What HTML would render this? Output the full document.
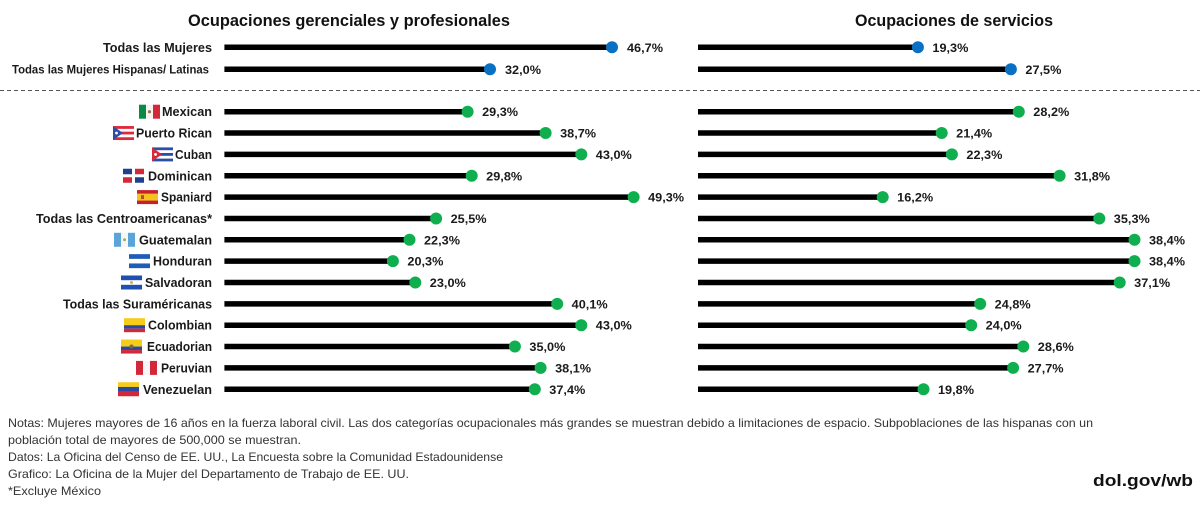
<!DOCTYPE html>
<html>
<head>
<meta charset="utf-8">
<style>
  html,body{margin:0;padding:0;background:#fff;}
  svg{display:block;}
  text{font-family:"Liberation Sans",Arial,sans-serif;}
  .lbl{font-size:12.5px;font-weight:bold;fill:#1a1a1a;}
  .val{font-size:12px;font-weight:bold;fill:#1a1a1a;}
  .ttl{font-size:17px;font-weight:bold;fill:#111;}
  .note{font-size:12px;fill:#333;}
</style>
</head>
<body>
<svg width="1200" height="508" viewBox="0 0 1200 508" xmlns="http://www.w3.org/2000/svg">
<defs>
  <symbol id="mx" viewBox="0 0 21 14"><rect width="7" height="14" fill="#0b8a47"/><rect x="7" width="7" height="14" fill="#f4f4f4"/><rect x="14" width="7" height="14" fill="#d2283a"/><circle cx="10.5" cy="7" r="1.6" fill="#a07040"/></symbol>
  <symbol id="pr" viewBox="0 0 21 14"><rect width="21" height="14" fill="#e0283a"/><rect y="2.8" width="21" height="2.8" fill="#fff"/><rect y="8.4" width="21" height="2.8" fill="#fff"/><polygon points="0,0 10,7 0,14" fill="#2b4fa8"/><circle cx="3.5" cy="7" r="1.4" fill="#fff"/></symbol>
  <symbol id="cu" viewBox="0 0 21 14"><rect width="21" height="14" fill="#2a4fa8"/><rect y="2.8" width="21" height="2.8" fill="#fff"/><rect y="8.4" width="21" height="2.8" fill="#fff"/><polygon points="0,0 10,7 0,14" fill="#d8283a"/><circle cx="3.5" cy="7" r="1.4" fill="#fff"/></symbol>
  <symbol id="do" viewBox="0 0 21 14"><rect width="21" height="14" fill="#fff"/><rect width="9" height="5.5" fill="#1f3f91"/><rect x="12" width="9" height="5.5" fill="#d2283a"/><rect y="8.5" width="9" height="5.5" fill="#d2283a"/><rect x="12" y="8.5" width="9" height="5.5" fill="#1f3f91"/></symbol>
  <symbol id="es" viewBox="0 0 21 14"><rect width="21" height="14" fill="#c8202a"/><rect y="3.5" width="21" height="7" fill="#f6c122"/><rect x="4" y="5" width="3" height="4" fill="#b0502a"/></symbol>
  <symbol id="gt" viewBox="0 0 21 14"><rect width="7" height="14" fill="#5ba4da"/><rect x="7" width="7" height="14" fill="#f7f7f7"/><rect x="14" width="7" height="14" fill="#5ba4da"/><circle cx="10.5" cy="7" r="1.5" fill="#9bb060"/></symbol>
  <symbol id="hn" viewBox="0 0 21 14"><rect width="21" height="14" fill="#1f5bb8"/><rect y="4.7" width="21" height="4.6" fill="#fff"/></symbol>
  <symbol id="sv" viewBox="0 0 21 14"><rect width="21" height="14" fill="#1f4fb0"/><rect y="4.7" width="21" height="4.6" fill="#fff"/><circle cx="10.5" cy="7" r="1.5" fill="#c9b060"/></symbol>
  <symbol id="co" viewBox="0 0 21 14"><rect width="21" height="7" fill="#f6cc1a"/><rect y="7" width="21" height="3.5" fill="#2a4aa0"/><rect y="10.5" width="21" height="3.5" fill="#d2283a"/></symbol>
  <symbol id="ec" viewBox="0 0 21 14"><rect width="21" height="7" fill="#f6cc1a"/><rect y="7" width="21" height="3.5" fill="#2a4aa0"/><rect y="10.5" width="21" height="3.5" fill="#d2283a"/><circle cx="10.5" cy="7" r="2" fill="#7a6a3a"/></symbol>
  <symbol id="pe" viewBox="0 0 21 14"><rect width="7" height="14" fill="#d2283a"/><rect x="7" width="7" height="14" fill="#f7f7f7"/><rect x="14" width="7" height="14" fill="#d2283a"/></symbol>
  <symbol id="ve" viewBox="0 0 21 14"><rect width="21" height="4.7" fill="#f6cc1a"/><rect y="4.7" width="21" height="4.6" fill="#2a4aa0"/><rect y="9.3" width="21" height="4.7" fill="#d2283a"/></symbol>
</defs>

<!-- Titles -->
<text class="ttl" x="188" y="26" textLength="322" lengthAdjust="spacingAndGlyphs">Ocupaciones gerenciales y profesionales</text>
<text class="ttl" x="855" y="26" textLength="198" lengthAdjust="spacingAndGlyphs">Ocupaciones de servicios</text>

<!-- Top labels -->
<text class="lbl" x="212" y="51.8" text-anchor="end" textLength="109" lengthAdjust="spacingAndGlyphs">Todas las Mujeres</text>
<text class="lbl" x="209" y="73.5" text-anchor="end" textLength="197" lengthAdjust="spacingAndGlyphs" style="font-size:11.5px">Todas las Mujeres Hispanas/ Latinas</text>

<!-- Dashed separator -->
<line x1="0" y1="90.5" x2="1200" y2="90.5" stroke="#555" stroke-width="1" stroke-dasharray="4 3"/>

<!-- Group labels -->
<g class="lbl">
<text x="212" y="116.2" text-anchor="end" textLength="50" lengthAdjust="spacingAndGlyphs">Mexican</text>
<text x="212" y="137.55" text-anchor="end" textLength="76" lengthAdjust="spacingAndGlyphs">Puerto Rican</text>
<text x="212" y="158.9" text-anchor="end" textLength="37" lengthAdjust="spacingAndGlyphs">Cuban</text>
<text x="212" y="180.25" text-anchor="end" textLength="64" lengthAdjust="spacingAndGlyphs">Dominican</text>
<text x="212" y="201.6" text-anchor="end" textLength="51" lengthAdjust="spacingAndGlyphs">Spaniard</text>
<text x="212" y="222.95" text-anchor="end" textLength="176" lengthAdjust="spacingAndGlyphs">Todas las Centroamericanas*</text>
<text x="212" y="244.3" text-anchor="end" textLength="73" lengthAdjust="spacingAndGlyphs">Guatemalan</text>
<text x="212" y="265.65" text-anchor="end" textLength="59" lengthAdjust="spacingAndGlyphs">Honduran</text>
<text x="212" y="287" text-anchor="end" textLength="67" lengthAdjust="spacingAndGlyphs">Salvadoran</text>
<text x="212" y="308.35" text-anchor="end" textLength="149" lengthAdjust="spacingAndGlyphs">Todas las Suraméricanas</text>
<text x="212" y="329.7" text-anchor="end" textLength="64" lengthAdjust="spacingAndGlyphs">Colombian</text>
<text x="212" y="351.05" text-anchor="end" textLength="65" lengthAdjust="spacingAndGlyphs">Ecuadorian</text>
<text x="212" y="372.4" text-anchor="end" textLength="51" lengthAdjust="spacingAndGlyphs">Peruvian</text>
<text x="212" y="393.75" text-anchor="end" textLength="69" lengthAdjust="spacingAndGlyphs">Venezuelan</text>
</g>

<!-- Flags -->
<use href="#mx" x="139" y="104.2" width="21" height="15"/>
<use href="#pr" x="113" y="125.55" width="21" height="15"/>
<use href="#cu" x="152" y="146.9" width="21" height="15"/>
<use href="#do" x="123" y="168.25" width="21" height="15"/>
<use href="#es" x="137" y="189.6" width="21" height="15"/>
<use href="#gt" x="114" y="232.3" width="21" height="15"/>
<use href="#hn" x="129" y="253.65" width="21" height="15"/>
<use href="#sv" x="121" y="275" width="21" height="15"/>
<use href="#co" x="124" y="317.7" width="21" height="15"/>
<use href="#ec" x="121" y="339.05" width="21" height="15"/>
<use href="#pe" x="136" y="360.4" width="21" height="15"/>
<use href="#ve" x="118" y="381.75" width="21" height="15"/>

<!-- Left panel bars -->
<g stroke="#000" stroke-width="5.5">
<line x1="224.4" y1="47.3" x2="612" y2="47.3"/>
<line x1="224.4" y1="69.3" x2="490" y2="69.3"/>
<line x1="224.4" y1="111.7" x2="467.6" y2="111.7"/>
<line x1="224.4" y1="133.05" x2="545.6" y2="133.05"/>
<line x1="224.4" y1="154.4" x2="581.3" y2="154.4"/>
<line x1="224.4" y1="175.75" x2="471.7" y2="175.75"/>
<line x1="224.4" y1="197.1" x2="633.6" y2="197.1"/>
<line x1="224.4" y1="218.45" x2="436.1" y2="218.45"/>
<line x1="224.4" y1="239.8" x2="409.5" y2="239.8"/>
<line x1="224.4" y1="261.15" x2="392.9" y2="261.15"/>
<line x1="224.4" y1="282.5" x2="415.3" y2="282.5"/>
<line x1="224.4" y1="303.85" x2="557.2" y2="303.85"/>
<line x1="224.4" y1="325.2" x2="581.3" y2="325.2"/>
<line x1="224.4" y1="346.55" x2="514.9" y2="346.55"/>
<line x1="224.4" y1="367.9" x2="540.6" y2="367.9"/>
<line x1="224.4" y1="389.25" x2="534.8" y2="389.25"/>
</g>
<g fill="#0a70c4">
<circle cx="612" cy="47.3" r="6"/>
<circle cx="490" cy="69.3" r="6"/>
</g>
<g fill="#0fae4e">
<circle cx="467.6" cy="111.7" r="6"/>
<circle cx="545.6" cy="133.05" r="6"/>
<circle cx="581.3" cy="154.4" r="6"/>
<circle cx="471.7" cy="175.75" r="6"/>
<circle cx="633.6" cy="197.1" r="6"/>
<circle cx="436.1" cy="218.45" r="6"/>
<circle cx="409.5" cy="239.8" r="6"/>
<circle cx="392.9" cy="261.15" r="6"/>
<circle cx="415.3" cy="282.5" r="6"/>
<circle cx="557.2" cy="303.85" r="6"/>
<circle cx="581.3" cy="325.2" r="6"/>
<circle cx="514.9" cy="346.55" r="6"/>
<circle cx="540.6" cy="367.9" r="6"/>
<circle cx="534.8" cy="389.25" r="6"/>
</g>
<g class="val">
<text x="627" y="51.8" textLength="36" lengthAdjust="spacingAndGlyphs">46,7%</text>
<text x="505" y="73.8" textLength="36" lengthAdjust="spacingAndGlyphs">32,0%</text>
<text x="482.1" y="116.2" textLength="36" lengthAdjust="spacingAndGlyphs">29,3%</text>
<text x="560.1" y="137.55" textLength="36" lengthAdjust="spacingAndGlyphs">38,7%</text>
<text x="595.8" y="158.9" textLength="36" lengthAdjust="spacingAndGlyphs">43,0%</text>
<text x="486.2" y="180.25" textLength="36" lengthAdjust="spacingAndGlyphs">29,8%</text>
<text x="648.1" y="201.6" textLength="36" lengthAdjust="spacingAndGlyphs">49,3%</text>
<text x="450.6" y="222.95" textLength="36" lengthAdjust="spacingAndGlyphs">25,5%</text>
<text x="424" y="244.3" textLength="36" lengthAdjust="spacingAndGlyphs">22,3%</text>
<text x="407.4" y="265.65" textLength="36" lengthAdjust="spacingAndGlyphs">20,3%</text>
<text x="429.8" y="287" textLength="36" lengthAdjust="spacingAndGlyphs">23,0%</text>
<text x="571.7" y="308.35" textLength="36" lengthAdjust="spacingAndGlyphs">40,1%</text>
<text x="595.8" y="329.7" textLength="36" lengthAdjust="spacingAndGlyphs">43,0%</text>
<text x="529.4" y="351.05" textLength="36" lengthAdjust="spacingAndGlyphs">35,0%</text>
<text x="555.1" y="372.4" textLength="36" lengthAdjust="spacingAndGlyphs">38,1%</text>
<text x="549.3" y="393.75" textLength="36" lengthAdjust="spacingAndGlyphs">37,4%</text>
</g>

<!-- Right panel bars -->
<g stroke="#000" stroke-width="5.5">
<line x1="698" y1="47.3" x2="917.9" y2="47.3"/>
<line x1="698" y1="69.3" x2="1010.9" y2="69.3"/>
<line x1="698" y1="111.7" x2="1018.8" y2="111.7"/>
<line x1="698" y1="133.05" x2="941.7" y2="133.05"/>
<line x1="698" y1="154.4" x2="951.9" y2="154.4"/>
<line x1="698" y1="175.75" x2="1059.6" y2="175.75"/>
<line x1="698" y1="197.1" x2="882.7" y2="197.1"/>
<line x1="698" y1="218.45" x2="1099.3" y2="218.45"/>
<line x1="698" y1="239.8" x2="1134.5" y2="239.8"/>
<line x1="698" y1="261.15" x2="1134.5" y2="261.15"/>
<line x1="698" y1="282.5" x2="1119.7" y2="282.5"/>
<line x1="698" y1="303.85" x2="980.2" y2="303.85"/>
<line x1="698" y1="325.2" x2="971.2" y2="325.2"/>
<line x1="698" y1="346.55" x2="1023.3" y2="346.55"/>
<line x1="698" y1="367.9" x2="1013.1" y2="367.9"/>
<line x1="698" y1="389.25" x2="923.5" y2="389.25"/>
</g>
<g fill="#0a70c4">
<circle cx="917.9" cy="47.3" r="6"/>
<circle cx="1010.9" cy="69.3" r="6"/>
</g>
<g fill="#0fae4e">
<circle cx="1018.8" cy="111.7" r="6"/>
<circle cx="941.7" cy="133.05" r="6"/>
<circle cx="951.9" cy="154.4" r="6"/>
<circle cx="1059.6" cy="175.75" r="6"/>
<circle cx="882.7" cy="197.1" r="6"/>
<circle cx="1099.3" cy="218.45" r="6"/>
<circle cx="1134.5" cy="239.8" r="6"/>
<circle cx="1134.5" cy="261.15" r="6"/>
<circle cx="1119.7" cy="282.5" r="6"/>
<circle cx="980.2" cy="303.85" r="6"/>
<circle cx="971.2" cy="325.2" r="6"/>
<circle cx="1023.3" cy="346.55" r="6"/>
<circle cx="1013.1" cy="367.9" r="6"/>
<circle cx="923.5" cy="389.25" r="6"/>
</g>
<g class="val">
<text x="932.4" y="51.8" textLength="36" lengthAdjust="spacingAndGlyphs">19,3%</text>
<text x="1025.4" y="73.8" textLength="36" lengthAdjust="spacingAndGlyphs">27,5%</text>
<text x="1033.3" y="116.2" textLength="36" lengthAdjust="spacingAndGlyphs">28,2%</text>
<text x="956.2" y="137.55" textLength="36" lengthAdjust="spacingAndGlyphs">21,4%</text>
<text x="966.4" y="158.9" textLength="36" lengthAdjust="spacingAndGlyphs">22,3%</text>
<text x="1074.1" y="180.25" textLength="36" lengthAdjust="spacingAndGlyphs">31,8%</text>
<text x="897.2" y="201.6" textLength="36" lengthAdjust="spacingAndGlyphs">16,2%</text>
<text x="1113.8" y="222.95" textLength="36" lengthAdjust="spacingAndGlyphs">35,3%</text>
<text x="1149" y="244.3" textLength="36" lengthAdjust="spacingAndGlyphs">38,4%</text>
<text x="1149" y="265.65" textLength="36" lengthAdjust="spacingAndGlyphs">38,4%</text>
<text x="1134.2" y="287" textLength="36" lengthAdjust="spacingAndGlyphs">37,1%</text>
<text x="994.7" y="308.35" textLength="36" lengthAdjust="spacingAndGlyphs">24,8%</text>
<text x="985.7" y="329.7" textLength="36" lengthAdjust="spacingAndGlyphs">24,0%</text>
<text x="1037.8" y="351.05" textLength="36" lengthAdjust="spacingAndGlyphs">28,6%</text>
<text x="1027.6" y="372.4" textLength="36" lengthAdjust="spacingAndGlyphs">27,7%</text>
<text x="938" y="393.75" textLength="36" lengthAdjust="spacingAndGlyphs">19,8%</text>
</g>

<!-- Footer notes -->
<g class="note">
<text x="8" y="427" textLength="1085" lengthAdjust="spacingAndGlyphs">Notas: Mujeres mayores de 16 años en la fuerza laboral civil. Las dos categorías ocupacionales más grandes se muestran debido a limitaciones de espacio. Subpoblaciones de las hispanas con un</text>
<text x="8" y="444" textLength="293" lengthAdjust="spacingAndGlyphs">población total de mayores de 500,000 se muestran.</text>
<text x="8" y="461" textLength="495" lengthAdjust="spacingAndGlyphs">Datos: La Oficina del Censo de EE. UU., La Encuesta sobre la Comunidad Estadounidense</text>
<text x="8" y="478" textLength="401" lengthAdjust="spacingAndGlyphs">Grafico: La Oficina de la Mujer del Departamento de Trabajo de EE. UU.</text>
<text x="8" y="495" textLength="93" lengthAdjust="spacingAndGlyphs">*Excluye México</text>
</g>
<text x="1193" y="486" text-anchor="end" style="font-size:17px;font-weight:bold;fill:#111;" textLength="100" lengthAdjust="spacingAndGlyphs">dol.gov/wb</text>
</svg>
</body>
</html>
